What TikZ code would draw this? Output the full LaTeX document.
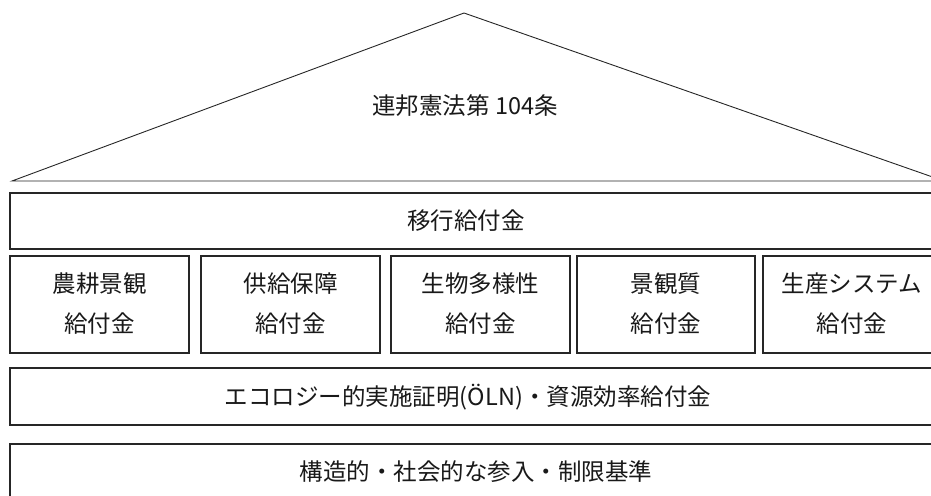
\documentclass[tikz,border=0pt]{standalone}
\usepackage{fontspec}
\setmainfont{Noto Sans CJK JP}
\begin{document}
\begin{tikzpicture}[x=1pt,y=-1pt,
  boxline/.style={draw=black!85,line width=1.3pt},
  roofline/.style={draw=black!85,line width=0.9pt},
  lbl/.style={font=\fontsize{23.5}{40}\selectfont,align=center,text=black!90,inner sep=0pt}]
\useasboundingbox (0,0) rectangle (931,495);
\clip (0,0) rectangle (931,495);
% roof
\coordinate (apex) at (464,13);
\coordinate (rl) at (12,181);
\coordinate (rr) at (944,181);
\draw[roofline] (rl) -- (apex) -- (rr) -- cycle;
\node[lbl] (roof) at (465,106) {連邦憲法第 104条};
% transition
\draw[boxline] (10,193) rectangle (945,249);
\node[lbl] (trans) at (466,221) {移行給付金};
% five pillars
\draw[boxline] (10,256) rectangle (189,353);
\draw[boxline] (201,256) rectangle (380,353);
\draw[boxline] (391,256) rectangle (570,353);
\draw[boxline] (577,256) rectangle (755,353);
\draw[boxline] (763,256) rectangle (945,353);
\node[lbl] (p1) at (99.5,304) {農耕景観\\給付金};
\node[lbl] (p2) at (290.5,304) {供給保障\\給付金};
\node[lbl] (p3) at (480.5,304) {生物多様性\\給付金};
\node[lbl] (p4) at (666,304) {景観質\\給付金};
\node[lbl] (p5) at (852,304) {生産システム\\給付金};
% OLN
\draw[boxline] (10,368) rectangle (945,425);
\node[lbl] (oln) at (468,397) {エコロジー的実施証明(ÖLN)・資源効率給付金};
% base
\draw[boxline] (10,444) rectangle (945,530);
\node[lbl] (base) at (476,472) {構造的・社会的な参入・制限基準};
\end{tikzpicture}
\end{document}
